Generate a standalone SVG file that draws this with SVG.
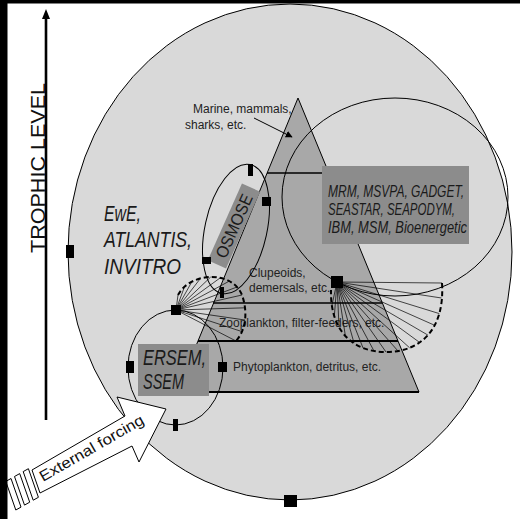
<svg xmlns="http://www.w3.org/2000/svg" width="520" height="519" viewBox="0 0 520 519">
<style>
.lbl{font-family:"Liberation Sans",Arial,sans-serif;font-size:12px;fill:#222}
.big{font-family:"Liberation Sans Narrow","Liberation Sans",Arial,sans-serif;font-style:italic;font-size:22px;fill:#1a1a1a}
.mdl{font-family:"Liberation Sans Narrow","Liberation Sans",Arial,sans-serif;font-style:italic;font-size:16px;fill:#1a1a1a}
.ln{stroke:#000;fill:none}
.box{fill:#8c8c8c}
.mk{fill:#000}
.fan line{stroke:#000;stroke-width:0.7}
.dash{stroke:#000;stroke-width:2;fill:none;stroke-dasharray:5 3}
</style>
<defs>
<marker id="ah" viewBox="0 0 10 10" refX="9" refY="5" markerWidth="7" markerHeight="7" orient="auto" markerUnits="userSpaceOnUse">
<path d="M0,0 L10,5 L0,10 z" fill="#000"/>
</marker>
</defs>
<rect x="0" y="0" width="520" height="519" fill="#fff"/>

<g id="trophic-axis">
<line x1="46" y1="18" x2="46" y2="420" stroke="#000" stroke-width="2.6"/>
<polygon points="46,9 42,19 50,19" fill="#000"/>
<text transform="translate(45,168) rotate(-90)" text-anchor="middle" font-family="Liberation Sans, Arial, sans-serif" font-size="21" fill="#111" textLength="170" lengthAdjust="spacingAndGlyphs">TROPHIC LEVEL</text>
</g>

<g id="ecosystem">
<ellipse cx="290" cy="252" rx="222" ry="248" fill="#d9d9d9" stroke="#000" stroke-width="1"/>
</g>

<g id="pyramid">
<polygon points="298,98 419,392 177,392" fill="#a8a8a8" stroke="#000" stroke-width="1"/>
<line class="ln" x1="267" y1="173" x2="329" y2="173" stroke-width="1.5"/>
<line class="ln" x1="213" y1="303" x2="382" y2="303" stroke-width="1.5"/>
<line class="ln" x1="198" y1="341" x2="398" y2="341" stroke-width="1.8"/>
<line class="ln" x1="177" y1="392" x2="419" y2="392" stroke-width="2.2"/>
<text class="lbl" x="249" y="277">Clupeoids,</text>
<text class="lbl" x="249" y="292">demersals, etc.</text>
<text class="lbl" x="219" y="327">Zooplankton, filter-feeders, etc.</text>
<text class="lbl" x="233" y="371">Phytoplankton, detritus, etc.</text>
</g>

<g id="marine-label">
<text class="lbl" x="193" y="113">Marine, mammals,</text>
<text class="lbl" x="185" y="129">sharks, etc.</text>
</g>

<g id="mrm-models">
<rect class="box" x="322" y="166" width="147" height="78" fill="#8e8e8e"/>
<ellipse cx="395" cy="197" rx="113" ry="99" fill="none" stroke="#000" stroke-width="1"/>
<text class="mdl" x="328" y="197" textLength="136" lengthAdjust="spacingAndGlyphs">MRM, MSVPA, GADGET,</text>
<text class="mdl" x="328" y="215" textLength="127" lengthAdjust="spacingAndGlyphs">SEASTAR, SEAPODYM,</text>
<text class="mdl" x="328" y="233" textLength="139" lengthAdjust="spacingAndGlyphs">IBM, MSM, Bioenergetic</text>
</g>

<g id="ewe-models">
<text class="big" x="104" y="221" textLength="37" lengthAdjust="spacingAndGlyphs">EwE,</text>
<text class="big" x="104" y="247" textLength="88" lengthAdjust="spacingAndGlyphs">ATLANTIS,</text>
<text class="big" x="104" y="274" textLength="77" lengthAdjust="spacingAndGlyphs">INVITRO</text>
</g>

<g id="osmose">
<g transform="translate(234,226) rotate(-66)">
<rect class="box" x="-42" y="-10" width="84" height="20"/>
<text x="0" y="6" text-anchor="middle" font-family="Liberation Sans Narrow, Liberation Sans, Arial, sans-serif" font-size="17" fill="#1a1a1a" textLength="68" lengthAdjust="spacingAndGlyphs">OSMOSE</text>
</g>
<ellipse cx="0" cy="0" rx="31" ry="66" transform="translate(236,229) rotate(12.4)" fill="none" stroke="#000" stroke-width="1"/>
</g>

<g id="ersem">
<rect class="box" x="138" y="344" width="71" height="52"/>
<ellipse cx="175.5" cy="367.5" rx="47.5" ry="57.5" fill="none" stroke="#000" stroke-width="1"/>
<text class="big" x="143" y="365" textLength="63" lengthAdjust="spacingAndGlyphs">ERSEM,</text>
<text class="big" x="143" y="389" textLength="41" lengthAdjust="spacingAndGlyphs">SSEM</text>
</g>

<g id="connectors">
<line x1="254" y1="118" x2="292" y2="137" stroke="#000" stroke-width="1" marker-end="url(#ah)"/>
<g class="fan">
<line x1="176" y1="310" x2="178" y2="295"/>
<line x1="176" y1="310" x2="184" y2="288"/>
<line x1="176" y1="310" x2="191.7" y2="282"/>
<line x1="176" y1="310" x2="200" y2="279"/>
<line x1="176" y1="310" x2="210.7" y2="277"/>
<line x1="176" y1="310" x2="220" y2="278"/>
<line x1="176" y1="310" x2="229.5" y2="281"/>
<line x1="176" y1="310" x2="237" y2="287"/>
<line x1="176" y1="310" x2="242" y2="295"/>
<line x1="176" y1="310" x2="245" y2="307.8"/>
<line x1="176" y1="310" x2="245" y2="320"/>
<line x1="176" y1="310" x2="242" y2="331.6"/>
<line x1="176" y1="310" x2="236" y2="341"/>
</g>
<path class="dash" d="M178,295 C190,272 232,270 242,295 C248,312 246,330 236,341"/>
<g class="fan">
<line x1="337" y1="282" x2="442" y2="283"/>
<line x1="337" y1="282" x2="441.5" y2="298"/>
<line x1="337" y1="282" x2="439.3" y2="313.6"/>
<line x1="337" y1="282" x2="434" y2="325"/>
<line x1="337" y1="282" x2="427.9" y2="335.1"/>
<line x1="337" y1="282" x2="419" y2="342"/>
<line x1="337" y1="282" x2="409.6" y2="347.8"/>
<line x1="337" y1="282" x2="398" y2="351"/>
<line x1="337" y1="282" x2="386" y2="352"/>
<line x1="337" y1="282" x2="374" y2="351"/>
<line x1="337" y1="282" x2="363" y2="347.9"/>
<line x1="337" y1="282" x2="354" y2="343"/>
<line x1="337" y1="282" x2="345.4" y2="336"/>
<line x1="337" y1="282" x2="339" y2="327"/>
<line x1="337" y1="282" x2="334.3" y2="316.5"/>
<line x1="337" y1="282" x2="332" y2="305"/>
</g>
<path class="dash" d="M442,283 C445,330 420,352 386,352 C352,352 330,330 331,290"/>
</g>

<g id="external-forcing">
<polygon points="32,470 125,416 117,397 166,409 139,462 132,446 40,493" fill="#fff" stroke="#000" stroke-width="1"/>
<polygon points="28.4,468.7 38.4,497.3 33.2,500.2 23.2,471.6" fill="#fff" stroke="#000" stroke-width="1"/>
<polygon points="19.7,473.6 29.7,502.2 24.5,505.1 14.5,476.5" fill="#fff" stroke="#000" stroke-width="1"/>
<polygon points="11,478.5 21,507.1 15.8,510 5.8,481.4" fill="#fff" stroke="#000" stroke-width="1"/>
<text transform="translate(43,482) rotate(-30)" font-family="Liberation Sans Narrow, Liberation Sans, Arial, sans-serif" font-size="15" fill="#111" textLength="118" lengthAdjust="spacingAndGlyphs">External forcing</text>
</g>

<g id="markers">
<rect class="mk" x="66" y="245" width="8" height="13"/>
<rect class="mk" x="284" y="495" width="13" height="12"/>
<rect class="mk" x="248" y="164" width="5" height="12"/>
<rect class="mk" x="262" y="197" width="9" height="9"/>
<rect class="mk" x="202" y="257" width="9" height="7"/>
<rect class="mk" x="220" y="287" width="4" height="11"/>
<rect class="mk" x="171" y="305" width="10" height="10"/>
<rect class="mk" x="126" y="361" width="8" height="12"/>
<rect class="mk" x="218" y="362" width="9" height="10"/>
<rect class="mk" x="173" y="419" width="5" height="12"/>
<rect class="mk" x="331" y="276" width="12" height="12"/>
</g>

<rect x="0" y="0" width="520" height="3.5" fill="#000"/>
<rect x="0" y="0" width="7.5" height="519" fill="#000"/>
</svg>
